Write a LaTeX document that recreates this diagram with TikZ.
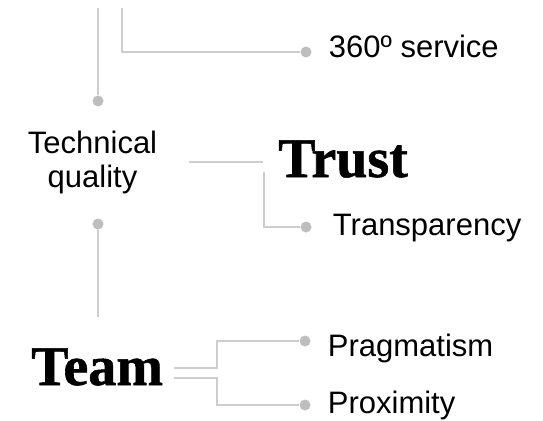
\documentclass[tikz,border=0pt]{standalone}
\usepackage{fontspec}
\setmainfont{Liberation Sans}
\newfontfamily\headfont{Liberation Serif}[BoldFeatures = {FakeBold = 1}]
\usetikzlibrary{positioning}
\definecolor{linegray}{RGB}{205,205,205}
\definecolor{dotgray}{RGB}{190,190,190}
\tikzset{
  node distance = 17pt,
  link/.style = {draw = linegray,
                 line width = 1.2pt},
  dot/.style = {circle,
                fill = dotgray,
                inner sep = 0pt,
                minimum size = 11pt},
  item/.style = {font = \fontsize{31}{34}\selectfont,
                 inner sep = 0pt},
  leaf/.style = {item,
                 text height = 22pt,
                 text depth = 6pt},
  head/.style = {font = \headfont\bfseries\fontsize{56}{60}\selectfont,
                 inner sep = 0pt}
}
\begin{document}
\begin{tikzpicture}[x = 1pt, y = -1pt]

\useasboundingbox (0,0) rectangle (543,420);

\coordinate(top-a) at (98,8);
\coordinate(top-b) at (122,8);

\node[dot](dot-tech) at (98,101) {}
  edge[link](top-a);

\node[dot](dot-service) at (306,52) {};
\draw[link] (top-b) |- (dot-service);

\node[leaf](service)[right = of dot-service, yshift = 2pt]{360º service};

\node[item, align = center](tech) at (92.5,162) {Technical\\quality};

\node[head, anchor = base west](trust) at (278,177) {Trust};

\draw[link, shorten <= 32pt, shorten >= 15pt] (tech.east) -- (tech.east -| trust.west);

\coordinate(trust-drop) at (264,172);
\node[dot](dot-transp) at (306,227) {};
\draw[link] (trust-drop) |- (dot-transp);

\node[leaf](transp)[right = 21pt of dot-transp]{Transparency};

\node[dot](dot-team) at (98,224) {};
\coordinate(team-up) at (98,317);
\draw[link] (dot-team) -- (team-up);

\node[head, anchor = base west](team) at (31,385) {Team};

\coordinate(fork-up) at (217,368);
\coordinate(fork-down) at (217,378);
\node[dot](dot-prag) at (305,341) {};
\node[dot](dot-prox) at (305,405) {};
\draw[link, shorten <= 11pt] (team.east |- fork-up) -- (fork-up) |- (dot-prag);
\draw[link, shorten <= 11pt] (team.east |- fork-down) -- (fork-down) |- (dot-prox);

\node[leaf](prag)[right = of dot-prag, yshift = -7pt]{Pragmatism};
\node[leaf](prox)[right = of dot-prox]{Proximity};

\end{tikzpicture}
\end{document}
